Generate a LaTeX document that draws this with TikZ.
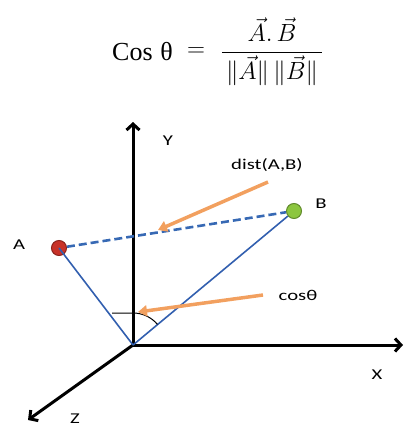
\documentclass[tikz,border=0pt]{standalone}
\usepackage{amsmath}
\usepackage{graphicx}
\usepackage{fontspec}
\usetikzlibrary{arrows.meta}
\newfontfamily\labfont{Carlito}
\newfontfamily\serfont{Liberation Serif}
\newcommand{\wide}[1]{\scalebox{1.38}[1]{#1}}
\definecolor{lblue}{RGB}{50,95,175}
\definecolor{dblue}{RGB}{55,105,180}
\definecolor{lorange}{RGB}{242,160,95}
\definecolor{pred}{RGB}{200,50,40}
\definecolor{pgreen}{RGB}{140,198,63}
\tikzset{
  axis/.style={line width=3pt,black,-{Straight Barb[length=6pt,width=13pt,line width=3pt]}},
  vecline/.style={line width=1.6pt,lblue},
  pointer/.style={line width=3.5pt,lorange,-{Triangle[length=9pt,width=11pt]}},
  lab/.style={font=\labfont\fontsize{15}{17}\selectfont,inner sep=0pt},
  pt/.style={circle,inner sep=0pt,minimum size=15pt,line width=1pt},
}
\begin{document}
\begin{tikzpicture}[x=1pt,y=-1pt]
\useasboundingbox (0,0) rectangle (404,425);
% formula
\node[inner sep=0pt,anchor=west] (costh) at (112,52) {\fontsize{26}{30}\selectfont\serfont Cos\hspace{0.3em}θ};
\node[inner sep=0pt] (eq) at (196,52) {\fontsize{25}{30}\selectfont$=$};
\node[inner sep=0pt] (frac) at (272,52) {\fontsize{25}{30}\selectfont$\dfrac{\vec{A}.\,\vec{B}}{\,\|\vec{A}\|\,\|\vec{B}\|\,}$};
% axes
\coordinate (O) at (133,345);
\coordinate (Yt) at (133,122);
\coordinate (Xt) at (403,345);
\coordinate (Zt) at (28,420);
\draw[axis] (O) -- (Yt);
\draw[axis] (O) -- (Xt);
\draw[axis] (O) -- (Zt);
\node[lab] (ylab) at (168,141) {\wide{Y}};
\node[lab] (xlab) at (377,375) {\wide{X}};
\node[lab] (zlab) at (75,419) {\wide{Z}};
% points
\node[pt,draw=pred!70!black,fill=pred] (A) at (59,248) {};
\node[pt,draw=pgreen!70!black,fill=pgreen] (B) at (294,211) {};
\node[lab] (alab) at (19,245) {\wide{A}};
\node[lab] (blab) at (321,204) {\wide{B}};
% vectors
\draw[vecline] (O) -- (A.center);
\draw[vecline] (O) -- (B);
\draw[line width=2.6pt,dblue,dash pattern=on 8pt off 4pt] (A) -- (B);
% angle
\coordinate (h1) at (112,313);
\coordinate (h2) at (133,313);
\draw[line width=1pt,black] (h1) -- (h2) arc[start angle=-90,end angle=-40,radius=32];
% labels with pointers
\node[lab] (dist) at (267,165) {\wide{dist(A,B)}};
\coordinate (dtip) at (158,230);
\draw[pointer] (268,182) -- (dtip);
\node[lab] (cos) at (298,295) {\wide{cosθ}};
\coordinate (ctip) at (138,312);
\draw[pointer] (263,295) -- (ctip);
\end{tikzpicture}
\end{document}
